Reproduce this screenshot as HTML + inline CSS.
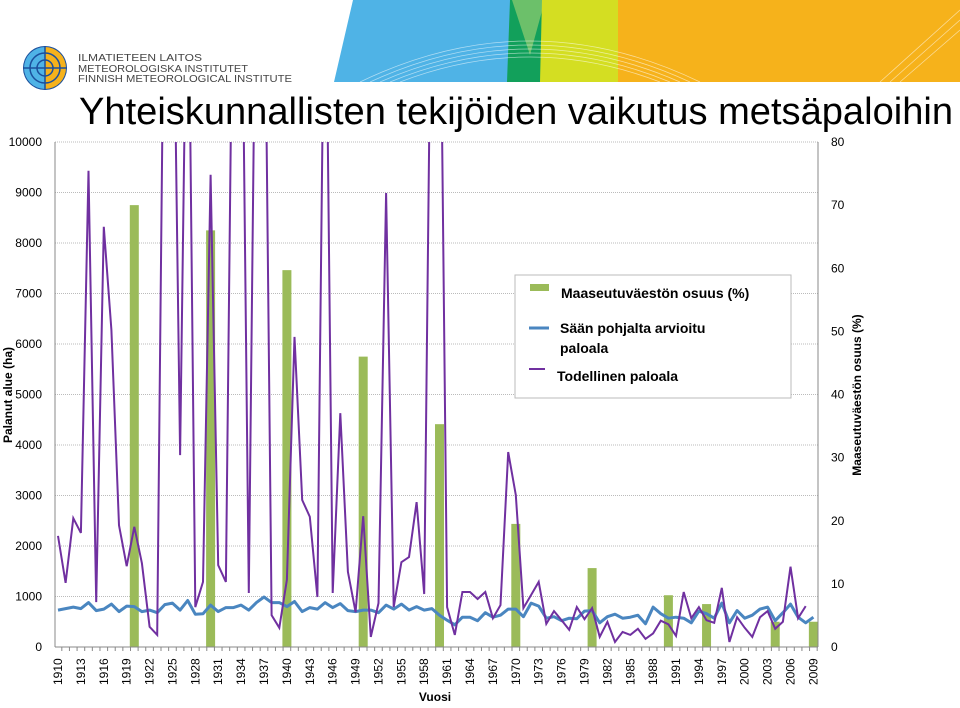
<!DOCTYPE html>
<html><head><meta charset="utf-8">
<style>
html,body{margin:0;padding:0;background:#fff;}
body{width:960px;height:703px;overflow:hidden;position:relative;font-family:"Liberation Sans",sans-serif;}
</style></head>
<body>
<svg id="chart" width="960" height="703" xmlns="http://www.w3.org/2000/svg">
  <g>
    <polygon points="353,0 512,0 508,82 334,82" fill="#4fb3e6"/>
    <polygon points="510,0 545,0 542,82 507,82" fill="#12a05b"/>
    <polygon points="512,0 545,0 530,55" fill="#6cc06a"/>
    <polygon points="542,0 620,0 620,82 540,82" fill="#d4de22"/>
    <polygon points="618,0 960,0 960,82 618,82" fill="#f6b21b"/>
    <g fill="none" stroke="#fff" stroke-opacity="0.55" stroke-width="0.8">
      <path d="M360,82 Q530,0 700,82"/><path d="M370,82 Q530,8 690,82"/><path d="M380,82 Q530,16 680,82"/>
      <path d="M390,82 Q530,24 670,82"/><path d="M400,82 Q530,32 660,82"/>
      <path d="M880,82 L960,10"/><path d="M890,82 L960,20"/><path d="M900,82 L960,30"/>
    </g>
  </g>
  <g>
    <circle cx="45" cy="68" r="22" fill="#1b4f9c"/>
    <path d="M45,47 A21,21 0 0,0 45,89 Z" fill="#4fb3e6"/>
    <path d="M45,47 A21,21 0 0,1 45,89 Z" fill="#f6b21b"/>
    <g fill="none" stroke="#1b4f9c" stroke-width="1.5"><circle cx="45" cy="68" r="8"/><circle cx="45" cy="68" r="15"/><line x1="23" y1="68" x2="67" y2="68"/><line x1="45" y1="46" x2="45" y2="90"/></g>
    <text x="78" y="61" font-size="10" fill="#444" textLength="124" lengthAdjust="spacingAndGlyphs">ILMATIETEEN LAITOS</text>
    <text x="78" y="72" font-size="10" fill="#444" textLength="170" lengthAdjust="spacingAndGlyphs">METEOROLOGISKA INSTITUTET</text>
    <text x="78" y="82" font-size="10" fill="#444" textLength="214" lengthAdjust="spacingAndGlyphs">FINNISH METEOROLOGICAL INSTITUTE</text>
  </g>
  <text x="79" y="124" font-size="38" fill="#000" textLength="874" lengthAdjust="spacingAndGlyphs">Yhteiskunnallisten tekijöiden vaikutus metsäpaloihin</text>
  <g id="grid"></g>
  <g id="bars"></g>
  <g id="lines"></g>
  <g id="axes"></g>
  <text transform="translate(12,395) rotate(-90)" text-anchor="middle" font-size="12" font-weight="bold">Palanut alue (ha)</text>
  <text transform="translate(861,395) rotate(-90)" text-anchor="middle" font-size="12" font-weight="bold">Maaseutuväestön osuus (%)</text>
  <text x="435" y="701" text-anchor="middle" font-size="12" font-weight="bold">Vuosi</text>
  <g>
    <rect x="515" y="275" width="276" height="123" fill="#fff" stroke="#bbb"/>
    <g>
      <rect x="530" y="284" width="19" height="7" fill="#9bbb59"/>
      <text x="561" y="298" font-size="14" font-weight="bold">Maaseutuväestön osuus (%)</text>
    </g>
    <g>
      <line x1="529" y1="328" x2="549" y2="328" stroke="#4a86c0" stroke-width="3"/>
      <text x="560" y="333" font-size="14" font-weight="bold">Sään  pohjalta arvioitu</text>
      <text x="560" y="353" font-size="14" font-weight="bold">paloala</text>
    </g>
    <g>
      <line x1="529" y1="369" x2="545" y2="369" stroke="#7030a0" stroke-width="2"/>
      <text x="557" y="381" font-size="14" font-weight="bold">Todellinen paloala</text>
    </g>
  </g>
</svg>
<script>
const firstYear = 1910;
const lastYear = 2009;
const actualArea = [2200,1270,2550,2260,9430,890,8320,6280,2410,1600,2380,1660,400,240,15000,15000,3800,15000,790,1290,9350,1620,1290,15000,15000,1070,15000,15000,630,380,1330,6140,2910,2580,990,15000,1070,4630,1490,690,2590,200,870,8990,790,1680,1780,2870,1050,15000,15000,
790,240,1090,1090,950,1090,570,830,3860,3010,770,1030,1290,460,710,530,340,790,550,770,200,500,100,300,240,360,160,270,520,450,220,1090,570,790,530,480,1170,100,590,380,200,590,710,360,500,1590,570,810];
const weatherArea = [730,760,790,760,880,720,750,850,700,810,800,700,730,680,840,870,730,920,650,660,830,700,780,780,830,730,880,990,880,880,800,900,700,780,750,880,780,860,720,700,730,730,680,830,750,850,730,800,730,760,630,
530,440,590,590,520,680,590,630,750,750,600,870,810,570,600,520,570,560,710,720,480,600,650,570,590,630,460,790,660,570,590,570,480,710,660,570,870,480,720,570,630,750,790,520,680,850,590,480,590];
const barYears = [1920,1930,1940,1950,1960,1970,1980,1990,1995,2004,2009];
const ruralShare = [70,66,59.7,46,35.3,19.5,12.5,8.2,6.8,4,4];
const yTicks = [0,1000,2000,3000,4000,5000,6000,7000,8000,9000,10000];
const y2Ticks = [0,10,20,30,40,50,60,70,80];

const NS='http://www.w3.org/2000/svg';
const X0=58, XS=7.63, YB=647, YT=142, L=55, R=818;
const x=yr=>X0+(yr-firstYear)*XS;
const y=v=>YB-(v/10000)*(YB-YT);
const y2=v=>YB-(v/80)*(YB-YT);
function mk(tag,attrs,parent){const e=document.createElementNS(NS,tag);for(const k in attrs)e.setAttribute(k,attrs[k]);parent.appendChild(e);return e;}
const grid=document.getElementById('grid'),bars=document.getElementById('bars'),lines=document.getElementById('lines'),axes=document.getElementById('axes');
const svg=document.getElementById('chart');
const defs=mk('defs',{},svg);const cp=mk('clipPath',{id:'pc'},defs);mk('rect',{x:L,y:YT,width:R-L,height:YB-YT},cp);
yTicks.forEach(t=>{
  if(t>0){const g=mk('line',{x1:L,x2:R,y1:y(t),y2:y(t),stroke:'#bbb','stroke-dasharray':'1,1'},grid);
  
  }
  const tx=mk('text',{x:42,y:y(t)+4,'text-anchor':'end','font-size':'12'},axes);tx.textContent=t;
  
  
});
y2Ticks.forEach(t=>{
  const tx=mk('text',{x:831,y:y2(t)+4,'font-size':'12'},axes);tx.textContent=t;
  
  
});
mk('line',{x1:R,x2:R,y1:YT,y2:YB,stroke:'#888'},axes);
mk('line',{x1:L,x2:R,y1:YB,y2:YB,stroke:'#888'},axes);
mk('line',{x1:L,x2:L,y1:YT,y2:YB,stroke:'#888'},axes);
for(let yr=firstYear;yr<=lastYear;yr++){
  mk('line',{x1:x(yr)+XS/2,x2:x(yr)+XS/2,y1:YB,y2:YB+4,stroke:'#888'},axes);
  if((yr-firstYear)%3===0){
    const tx=mk('text',{transform:`translate(${x(yr)+4},${YB+38}) rotate(-90)`,'font-size':'12'},axes);tx.textContent=yr;
    
    
  }
}
barYears.forEach((yr,i)=>{
  const b=mk('rect',{x:x(yr)-4.5,y:y2(ruralShare[i]),width:9,height:YB-y2(ruralShare[i]),fill:'#9bbb59'},bars);
  
  
});
function pts(arr){return arr.map((v,i)=>x(firstYear+i).toFixed(1)+','+y(v).toFixed(1)).join(' ');}
const wl=mk('polyline',{points:pts(weatherArea),fill:'none',stroke:'#4a86c0','stroke-width':3,'stroke-linejoin':'round','clip-path':'url(#pc)'},lines);


const al=mk('polyline',{points:pts(actualArea),fill:'none',stroke:'#7030a0','stroke-width':2,'clip-path':'url(#pc)'},lines);


</script>
</body></html>
